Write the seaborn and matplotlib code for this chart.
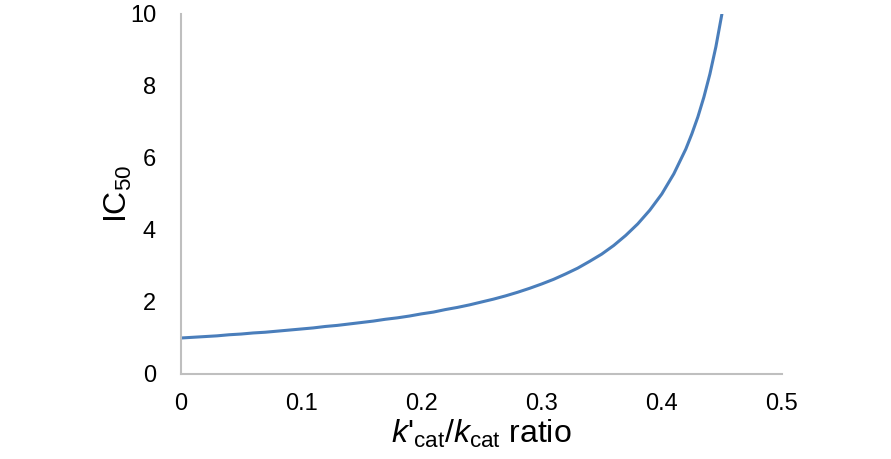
import matplotlib
matplotlib.use("Agg")
import matplotlib.pyplot as plt
import seaborn as sns
import pandas as pd

ratio = [0.00, 0.01, 0.02, 0.03, 0.04, 0.05, 0.06, 0.07, 0.08, 0.09,
         0.10, 0.11, 0.12, 0.13, 0.14, 0.15, 0.16, 0.17, 0.18, 0.19,
         0.20, 0.21, 0.22, 0.23, 0.24, 0.25, 0.26, 0.27, 0.28, 0.29,
         0.30, 0.31, 0.32, 0.33, 0.34, 0.35, 0.36, 0.37, 0.38, 0.39,
         0.40, 0.41, 0.42, 0.425, 0.43, 0.435, 0.44, 0.445, 0.45]
ic50 = [1.00, 1.02, 1.04, 1.06, 1.09, 1.11, 1.14, 1.16, 1.19, 1.22,
        1.25, 1.28, 1.32, 1.35, 1.39, 1.43, 1.47, 1.52, 1.56, 1.61,
        1.67, 1.72, 1.79, 1.85, 1.92, 2.00, 2.08, 2.17, 2.27, 2.38,
        2.50, 2.63, 2.78, 2.94, 3.13, 3.33, 3.57, 3.85, 4.17, 4.55,
        5.00, 5.56, 6.25, 6.67, 7.14, 7.69, 8.33, 9.09, 10.0]
x_ticks = [0, 0.1, 0.2, 0.3, 0.4, 0.5]
x_tick_labels = ["0", "0.1", "0.2", "0.3", "0.4", "0.5"]
y_ticks = [0, 2, 4, 6, 8, 10]

df = pd.DataFrame({"ratio": ratio, "IC50": ic50})

sns.set_theme(style="white")
plt.rcParams["font.family"] = ["Liberation Sans", "DejaVu Sans"]
plt.rcParams["mathtext.fontset"] = "custom"
plt.rcParams["mathtext.rm"] = "Liberation Sans"
plt.rcParams["mathtext.it"] = "Liberation Sans:italic"

fig = plt.figure(figsize=(8.91, 4.59), dpi=100)
ax = fig.add_axes([181 / 891, 1 - 374 / 459, (782 - 181) / 891, (374 - 14) / 459])
sns.lineplot(data=df, x="ratio", y="IC50", ax=ax, color="#4A7EBB", linewidth=2.2)

ax.set_xlim(0, 0.5)
ax.set_ylim(0, 10)
ax.set_xticks(x_ticks)
ax.set_xticklabels(x_tick_labels)
ax.set_yticks(y_ticks)
ax.tick_params(axis="both", length=0, labelsize=17, colors="black")
ax.tick_params(axis="x", pad=14)
ax.tick_params(axis="y", pad=18)

for s in ["top", "right"]:
    ax.spines[s].set_visible(False)
for s in ["left", "bottom"]:
    ax.spines[s].set_color("#BFBFBF")
    ax.spines[s].set_linewidth(1.5)

ax.set_xlabel(r"$k$'$_\mathrm{cat}$/$k_\mathrm{cat}$ ratio", fontsize=23,
              labelpad=2, color="black")
ax.set_ylabel(r"IC$_\mathrm{50}$", fontsize=23, labelpad=-3, color="black")

fig.savefig("out.png", dpi=100)
